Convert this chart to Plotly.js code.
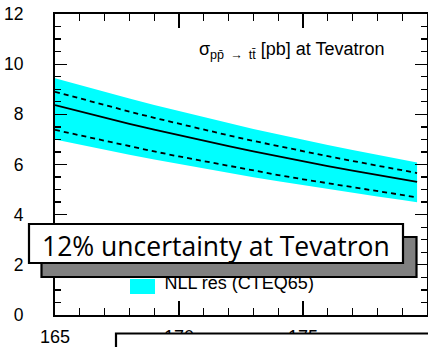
<!DOCTYPE html>
<html>
<head>
<meta charset="utf-8">
<script src="https://cdn.plot.ly/plotly-3.0.1.min.js"></script>
<style>
  html, body { margin: 0; padding: 0; background: #fff; }
  #chart { width: 428px; height: 347px; }
</style>
</head>
<body>
<div id="chart"></div>
<script>
// top-quark mass (GeV)
const mass = [165, 166, 167, 168, 169, 170, 171, 172, 173, 174, 175, 176, 177, 178, 179, 179.6];
// NLL resummed cross section, central value (pb)
const sigmaCentral = [8.37, 8.11, 7.86, 7.62, 7.39, 7.16, 6.94, 6.73, 6.52, 6.32, 6.13, 5.94, 5.76, 5.58, 5.41, 5.31];
// scale variation (dashed)
const sigmaScaleUp = [8.90, 8.63, 8.37, 8.11, 7.86, 7.62, 7.39, 7.16, 6.94, 6.73, 6.53, 6.33, 6.14, 5.95, 5.77, 5.66];
const sigmaScaleDown = [7.38, 7.16, 6.94, 6.73, 6.52, 6.32, 6.13, 5.94, 5.76, 5.58, 5.41, 5.25, 5.09, 4.93, 4.78, 4.69];
// full uncertainty band, CTEQ6.5 PDFs
const bandUpper = [9.44, 9.16, 8.89, 8.63, 8.37, 8.12, 7.88, 7.65, 7.42, 7.20, 6.99, 6.78, 6.58, 6.38, 6.19, 6.08];
const bandLower = [7.00, 6.79, 6.59, 6.39, 6.20, 6.02, 5.84, 5.66, 5.49, 5.33, 5.17, 5.02, 4.87, 4.72, 4.58, 4.50];

const xTicks = [165, 170, 175, 180];
const yTicks = [0, 2, 4, 6, 8, 10, 12];
const legendLabel = 'NLL res (CTEQ65)';
const plotTitle = 'σ<sub>pp\u0304 \u2009→\u2009 tt\u0304</sub> [pb] at Tevatron';
const boxLabel = '12% uncertainty at Tevatron';

const CYAN = '#00ffff';
const FONT = 'Liberation Sans, Arial, sans-serif';

// plot area in pixels
const L = 55, R = 427, T = 14, B = 315;
const W = R - L, H = B - T;
const px = v => (v - L) / W;
const py = v => (B - v) / H;

const traces = [
  { x: mass, y: bandLower, mode: 'lines', line: { width: 0, color: CYAN }, hoverinfo: 'skip', showlegend: false },
  { x: mass, y: bandUpper, mode: 'lines', line: { width: 0, color: CYAN }, fill: 'tonexty', fillcolor: CYAN, hoverinfo: 'skip', showlegend: false },
  { x: mass, y: sigmaScaleUp, mode: 'lines', line: { color: '#000', width: 1.8, dash: '5px,4px' }, showlegend: false },
  { x: mass, y: sigmaScaleDown, mode: 'lines', line: { color: '#000', width: 1.8, dash: '5px,4px' }, showlegend: false },
  { x: mass, y: sigmaCentral, mode: 'lines', line: { color: '#000', width: 1.8 }, showlegend: false },
  // legend entry text (partly tucked under the overlay boxes)
  { x: [165 + (164.5 - L) / (W / 15)], y: [(B - 284) / (H / 12)], mode: 'text', text: [legendLabel],
    textposition: 'middle right', textfont: { family: FONT, size: 18, color: '#000' },
    cliponaxis: false, hoverinfo: 'skip', showlegend: false }
];

const layout = {
  width: 428, height: 347,
  margin: { l: L, r: 428 - R, t: T, b: 347 - B, pad: 0 },
  paper_bgcolor: '#fff', plot_bgcolor: '#fff',
  showlegend: false,
  xaxis: {
    range: [165, 180], tickvals: xTicks, ticktext: xTicks.map(String),
    ticks: 'inside', ticklen: 14, tickwidth: 1.3, tickcolor: '#000',
    minor: { dtick: 1, ticks: 'inside', ticklen: 7, tickwidth: 1.3, tickcolor: '#000' },
    showline: true, linecolor: '#000', linewidth: 2, mirror: 'ticks',
    showgrid: false, zeroline: false, ticklabelstandoff: 4,
    tickfont: { family: FONT, size: 18, color: '#000' }
  },
  yaxis: {
    range: [0, 12], tickvals: yTicks, ticktext: yTicks.map(String),
    ticks: 'inside', ticklen: 12, tickwidth: 1.3, tickcolor: '#000',
    minor: { dtick: 0.5, ticks: 'inside', ticklen: 6, tickwidth: 1.3, tickcolor: '#000' },
    showline: true, linecolor: '#000', linewidth: 2, mirror: 'ticks',
    showgrid: false, zeroline: false, ticklabelstandoff: 26,
    tickfont: { family: FONT, size: 17.5, color: '#000' }
  },
  shapes: [
    // legend swatch
    { type: 'rect', xref: 'paper', yref: 'paper', x0: px(130), x1: px(155), y0: py(294), y1: py(279),
      fillcolor: CYAN, line: { width: 0 }, layer: 'above' },
    // shadow of the label box
    { type: 'rect', xref: 'paper', yref: 'paper', x0: px(41.5), x1: px(416.5), y0: py(277), y1: py(237),
      fillcolor: '#808080', line: { color: '#000', width: 2.2 }, layer: 'above' },
    // label box
    { type: 'rect', xref: 'paper', yref: 'paper', x0: px(29), x1: px(403), y0: py(263), y1: py(224),
      fillcolor: '#fff', line: { color: '#000', width: 2.2 }, layer: 'above' },
    // lower box running off the page
    { type: 'rect', xref: 'paper', yref: 'paper', x0: px(116), x1: px(470), y0: py(380), y1: py(333.5),
      fillcolor: '#fff', line: { color: '#000', width: 2.2 }, layer: 'above' }
  ],
  annotations: [
    { xref: 'paper', yref: 'paper', x: px(387), y: py(50), xanchor: 'right', yanchor: 'middle',
      text: plotTitle, showarrow: false, font: { family: FONT, size: 18, color: '#000' } },
    { xref: 'paper', yref: 'paper', x: px(216), y: py(246), xanchor: 'center', yanchor: 'middle',
      text: boxLabel, showarrow: false, font: { family: 'Open Sans, sans-serif', size: 26.5, color: '#000' } }
  ]
};

Plotly.newPlot('chart', traces, layout, { displayModeBar: false, staticPlot: true });
</script>
</body>
</html>
